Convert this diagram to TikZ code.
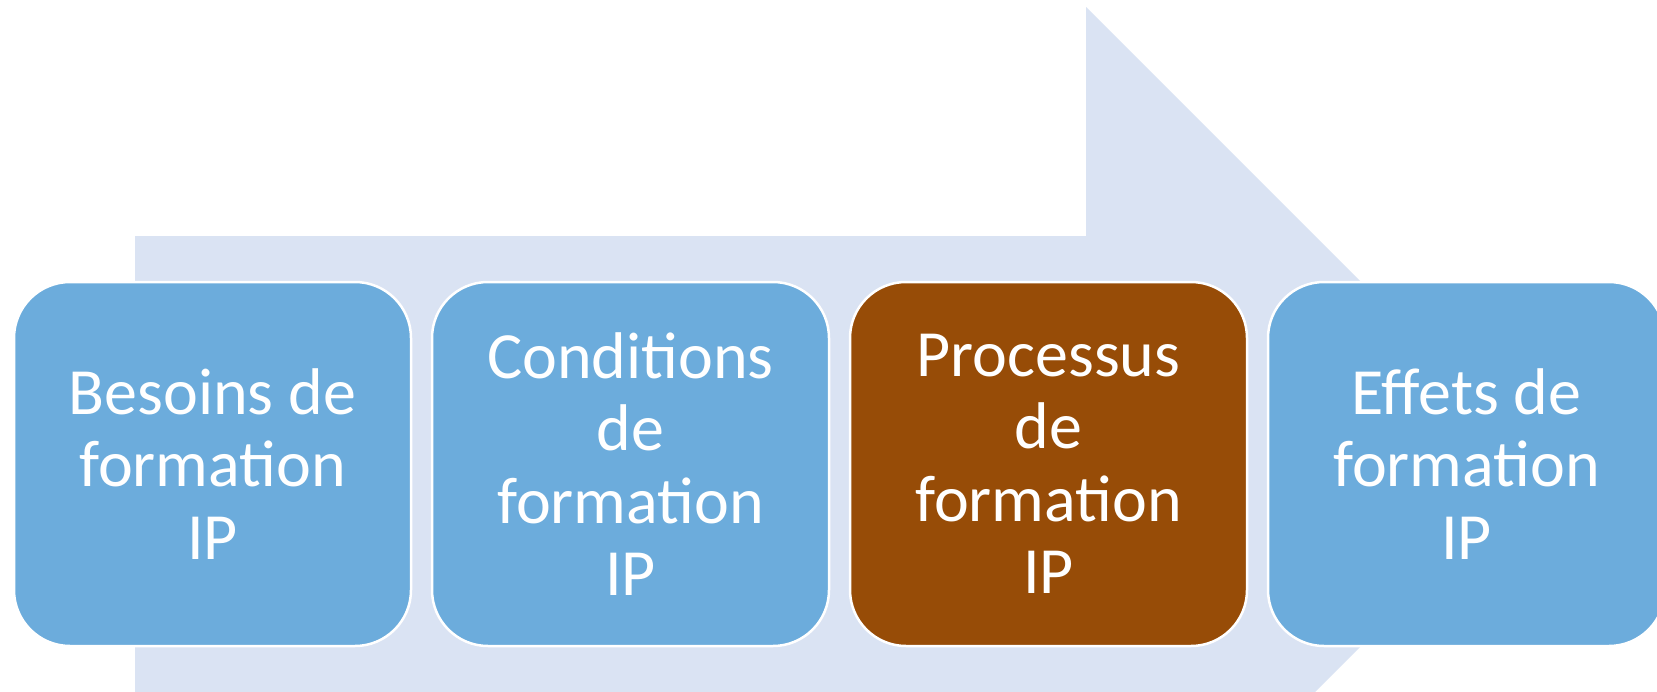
\documentclass[tikz,border=0pt]{standalone}
\usepackage{fontspec}
\setmainfont{Carlito}
\definecolor{arrowbg}{HTML}{DAE3F3}
\definecolor{boxblue}{HTML}{6CACDC}
\definecolor{boxbrown}{HTML}{974C07}
\begin{document}
\begin{tikzpicture}[x=1pt,y=-1pt,
  stage/.style={draw=white,line width=2.5pt,rounded corners=56pt,
    minimum width=397pt,minimum height=364pt,inner sep=0pt,
    align=center,text=white,font=\fontsize{66}{72.5}\selectfont},
  bluebox/.style={stage,fill=boxblue},
  brownbox/.style={stage,fill=boxbrown}]
\useasboundingbox (0,0) rectangle (1657,691);
\clip (0,0) rectangle (1657,691);
\fill[white] (0,0) rectangle (1657,691);
% big background arrow
\fill[arrowbg] (135,236) -- (1086,236) -- (1086,7) -- (1543,464)
  -- (1086,921) -- (1086,692) -- (135,692) -- cycle;
% stages
\node[bluebox]  (s1) at (212.5,464) {Besoins de\\formation\\IP};
\node[bluebox]  (s2) at (630.5,464) {Conditions\\de\\formation\\IP};
\node[brownbox] (s3) at (1048.5,464) {Processus\\de\\formation\\IP};
\node[bluebox]  (s4) at (1466.5,464) {Effets de\\formation\\IP};
\end{tikzpicture}
\end{document}
